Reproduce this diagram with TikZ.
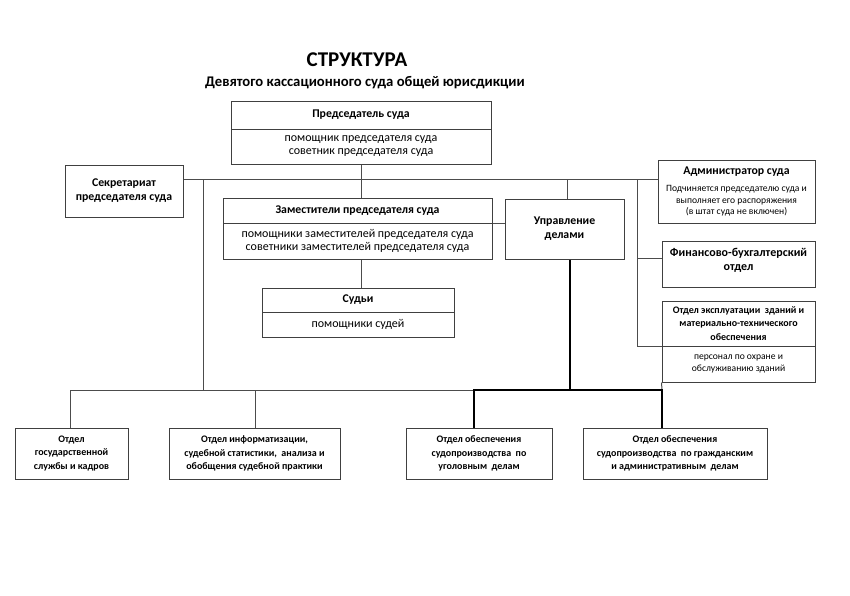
\documentclass[tikz,border=0pt]{standalone}
\usepackage{fontspec}
\setmainfont{Carlito}
\begin{document}
\begin{tikzpicture}[x=1pt,y=-1pt,
  box/.style={draw=black!75,line width=1pt,inner sep=1pt,align=center,anchor=center},
  ln/.style={draw=black!70,line width=1pt},
  thk/.style={draw=black,line width=2.6pt},
  hd/.style={font=\fontsize{11.8}{14}\selectfont\bfseries},
  bd/.style={font=\fontsize{12}{13}\selectfont},
  sm/.style={font=\fontsize{9.6}{11.5}\selectfont},
  bt/.style={font=\fontsize{10}{13.5}\selectfont\bfseries}]
\useasboundingbox[fill=white] (0,0) rectangle (850,595);
\node (title) at (357,60) {\fontsize{21}{24}\selectfont\bfseries СТРУКТУРА};
\node (sub) at (365,83) {\fontsize{14.7}{16}\selectfont\bfseries Девятого кассационного суда общей юрисдикции};
% chairman
\node[box,hd,minimum width=260,minimum height=28] (chair) at (361,115) {Председатель суда};
\node[box,bd,minimum width=260,minimum height=35] (chairB) at (361,146.5) {помощник председателя суда\\советник председателя суда};
% secretariat
\node[box,hd,minimum width=118,minimum height=52] (secr) at (124,191) {Секретариат\\председателя суда};
% deputies
\node[box,hd,minimum width=269,minimum height=25] (dep) at (357.5,210.5) {Заместители председателя суда};
\node[box,bd,minimum width=269,minimum height=36] (depB) at (357.5,241) {помощники заместителей председателя суда\\советники заместителей председателя суда};
% judges
\node[box,hd,minimum width=192,minimum height=24] (jud) at (358,300) {Судьи};
\node[box,bd,minimum width=192,minimum height=25] (judB) at (358,324.5) {помощники судей};
% upravlenie
\node[box,hd,minimum width=119,minimum height=60] (upr) at (564.5,229) {Управление\\делами};
% administrator
\node[box,minimum width=157,minimum height=63] (adm) at (736.5,191.5) {};
\node[hd,inner sep=0pt] (admT) at (736.5,172) {Администратор суда};
\node[sm,align=center,inner sep=0pt] (admB) at (736.5,201) {Подчиняется председателю суда и\\выполняет его распоряжения\\(в штат суда не включен)};
% finance
\node[box,minimum width=153,minimum height=46] (fin) at (738.5,264) {};
\node[font=\fontsize{12}{14}\selectfont\bfseries,align=center,inner sep=0pt] (finT) at (738.5,260) {Финансово-бухгалтерский\\отдел};
% exploitation
\node[box,bt,minimum width=153,minimum height=45] (exp) at (738.5,323.5) {Отдел эксплуатации\ \ зданий и\\материально-технического\\обеспечения};
\node[box,sm,minimum width=153,minimum height=36] (expB) at (738.5,364) {персонал по охране и\\обслуживанию зданий};
% bottom departments
\node[box,bt,minimum width=113,minimum height=51] (b1) at (71.5,453.5) {Отдел\\государственной\\службы и кадров};
\node[box,bt,minimum width=171,minimum height=51] (b2) at (254.5,453.5) {Отдел информатизации,\\судебной статистики,\ \ анализа и\\обобщения судебной практики};
\node[box,bt,minimum width=146,minimum height=51] (b3) at (479,453.5) {Отдел обеспечения\\судопроизводства\ \ по\\уголовным\ \ делам};
\node[box,bt,minimum width=184,minimum height=51] (b4) at (675,453.5) {Отдел обеспечения\\судопроизводства\ \ по гражданским\\и административным\ \ делам};
% coordinates
\coordinate (m1) at (361,179);
\coordinate (vl) at (203,179);
\coordinate (vu) at (567,179);
\coordinate (vr) at (637,179);
\coordinate (vf) at (637,258);
\coordinate (bus0) at (70,390);
\coordinate (bus1) at (255,390);
\coordinate (bus2) at (474,390);
\coordinate (bus3) at (570,390);
\coordinate (bus4) at (662,390);
\coordinate (busL) at (203,390);
% connectors
\draw[ln] (secr.east |- m1) -- (adm.west |- m1);
\draw[ln] (chairB.south -| m1) -- (dep.north -| m1);
\draw[ln] (depB.south -| m1) -- (jud.north -| m1);
\draw[ln] (vu) -- (upr.north -| vu);
\draw[ln] (dep.south east) -- (upr.west |- dep.south east);
\draw[ln] (vl) -- (busL);
\draw[ln] (vr) -- (vr |- exp.south);
\draw[ln] (vf) -- (fin.west |- vf);
\draw[ln] (vr |- exp.south) -- (exp.south west);
\draw[ln] (bus0) -- (bus2);
\draw[ln] (bus0) -- (bus0 |- b1.north);
\draw[ln] (bus1) -- (bus1 |- b2.north);
\draw[ln] (expB.south west) -- (bus4);
\draw[thk] (upr.south -| bus3) -- (bus3);
\draw[thk,line cap=rect] (bus2) -- (bus4);
\draw[thk] (bus2) -- (bus2 |- b3.north);
\draw[thk] (bus4) -- (bus4 |- b4.north);
\end{tikzpicture}
\end{document}
